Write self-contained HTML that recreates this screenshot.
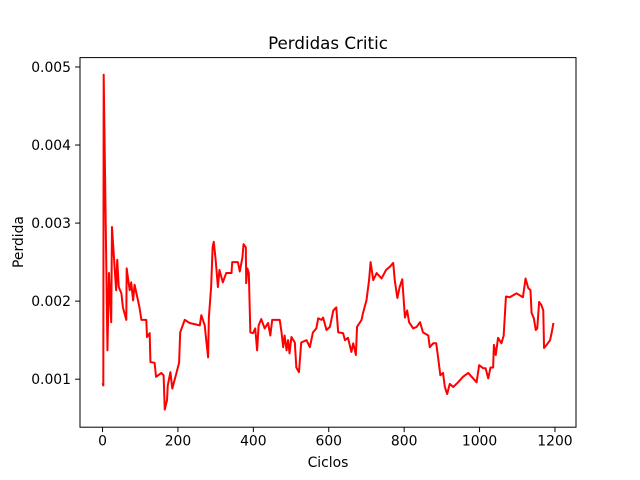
<!DOCTYPE html>
<html><head><meta charset="utf-8">
<style>
html,body{margin:0;padding:0;background:#fff;}
svg{display:block;font-family:"DejaVu Sans","Liberation Sans",sans-serif;}
</style></head>
<body>
<svg id="chart" width="640" height="480" viewBox="0 0 640 480">
<rect x="0" y="0" width="640" height="480" fill="#fff"/>
<text x="328" y="49" text-anchor="middle" font-size="16.7" fill="#000">Perdidas Critic</text>
<text x="328" y="467" text-anchor="middle" font-size="13.9" fill="#000">Ciclos</text>
<text transform="translate(23,242) rotate(-90)" text-anchor="middle" font-size="13.9" fill="#000">Perdida</text>
<g id="ticks"></g>
<g id="plot"></g>
<rect x="80" y="57.6" width="496" height="369.6" fill="none" stroke="#000" stroke-width="1"/>
</svg>
<script>
const xValues = [0,2,3,13,17,23,25,36,39,43,50,54,63,64,72,76,81,85,98,103,116,118,125,127,138,142,156,162,165,171,173,180,185,196,203,206,218,231,258,262,271,275,280,282,288,292,295,300,306,310,319,328,342,344,359,364,371,374,380,381,384,388,392,399,405,410,414,421,430,439,445,450,470,475,479,483,488,492,496,501,510,514,521,527,541,550,558,567,572,581,585,594,603,612,620,625,638,643,651,660,665,672,675,687,691,700,707,711,718,727,740,752,762,771,775,782,788,795,802,808,813,824,833,842,850,864,868,877,885,890,896,903,908,914,921,930,943,956,970,983,992,999,1010,1016,1023,1029,1036,1038,1043,1049,1058,1064,1070,1080,1098,1115,1122,1129,1135,1138,1144,1149,1153,1158,1164,1169,1171,1178,1187,1191,1196];
const lossValues = [0.95,0.92,4.90,1.37,2.36,1.73,2.95,2.14,2.53,2.18,2.10,1.92,1.76,2.42,2.14,2.24,2.01,2.21,1.92,1.76,1.76,1.54,1.59,1.22,1.21,1.03,1.08,1.05,0.61,0.73,0.92,1.09,0.88,1.08,1.21,1.60,1.76,1.72,1.69,1.82,1.69,1.50,1.28,1.79,2.18,2.69,2.76,2.53,2.18,2.40,2.24,2.36,2.36,2.50,2.50,2.38,2.56,2.73,2.69,2.23,2.42,2.36,1.60,1.59,1.65,1.37,1.69,1.77,1.65,1.72,1.56,1.76,1.76,1.59,1.41,1.56,1.37,1.50,1.33,1.54,1.47,1.15,1.09,1.47,1.50,1.41,1.60,1.65,1.78,1.76,1.79,1.63,1.67,1.88,1.92,1.60,1.59,1.50,1.53,1.35,1.46,1.31,1.67,1.76,1.85,2.01,2.27,2.50,2.27,2.36,2.29,2.40,2.44,2.49,2.27,2.04,2.18,2.28,1.79,1.88,1.73,1.65,1.67,1.73,1.60,1.56,1.41,1.46,1.46,1.28,1.05,1.08,0.90,0.81,0.94,0.90,0.96,1.03,1.08,1.01,0.96,1.18,1.14,1.14,1.01,1.15,1.15,1.44,1.31,1.53,1.46,1.56,2.06,2.05,2.10,2.05,2.29,2.17,2.14,1.85,1.78,1.63,1.65,1.99,1.95,1.88,1.40,1.44,1.50,1.59,1.72].map(v => v / 1000);
const xTicks = [0,200,400,600,800,1000,1200];
const yTicks = [0.001,0.002,0.003,0.004,0.005];
const yTickLabels = ["0.001","0.002","0.003","0.004","0.005"];

const X0 = 80, X1 = 576, Y0 = 427.2, Y1 = 57.6;
const xMin = -59.8, xMax = 1255.8, yMin = 0.000385, yMax = 0.00512;
function sx(v){ return X0 + (v - xMin) / (xMax - xMin) * (X1 - X0); }
function sy(v){ return Y0 - (v - yMin) / (yMax - yMin) * (Y0 - Y1); }
const NS = "http://www.w3.org/2000/svg";
const ticks = document.getElementById('ticks');
const plot = document.getElementById('plot');

xTicks.forEach(t => {
  const l = document.createElementNS(NS, 'line');
  l.setAttribute('x1', sx(t)); l.setAttribute('x2', sx(t));
  l.setAttribute('y1', Y0); l.setAttribute('y2', Y0 + 4.9);
  l.setAttribute('stroke', '#000');
  
  
  ticks.appendChild(l);
  const tx = document.createElementNS(NS, 'text');
  tx.setAttribute('x', sx(t)); tx.setAttribute('y', Y0 + 18.5);
  tx.setAttribute('text-anchor', 'middle'); tx.setAttribute('font-size', '13.9');
  tx.textContent = String(t);
  
  
  ticks.appendChild(tx);
});
yTicks.forEach((t, i) => {
  const l = document.createElementNS(NS, 'line');
  l.setAttribute('x1', X0 - 4.9); l.setAttribute('x2', X0);
  l.setAttribute('y1', sy(t)); l.setAttribute('y2', sy(t));
  l.setAttribute('stroke', '#000');
  
  
  ticks.appendChild(l);
  const tx = document.createElementNS(NS, 'text');
  tx.setAttribute('x', X0 - 9); tx.setAttribute('y', sy(t) + 5);
  tx.setAttribute('text-anchor', 'end'); tx.setAttribute('font-size', '13.9');
  tx.textContent = yTickLabels[i];
  
  
  ticks.appendChild(tx);
});

const pts = xValues.map((x, i) => sx(x).toFixed(2) + ',' + sy(lossValues[i]).toFixed(2)).join(' ');
const pl = document.createElementNS(NS, 'polyline');
pl.setAttribute('points', pts);
pl.setAttribute('fill', 'none');
pl.setAttribute('stroke', '#ff0000');
pl.setAttribute('stroke-width', '2');
pl.setAttribute('stroke-linejoin', 'round');


plot.appendChild(pl);
</script>
</body></html>
